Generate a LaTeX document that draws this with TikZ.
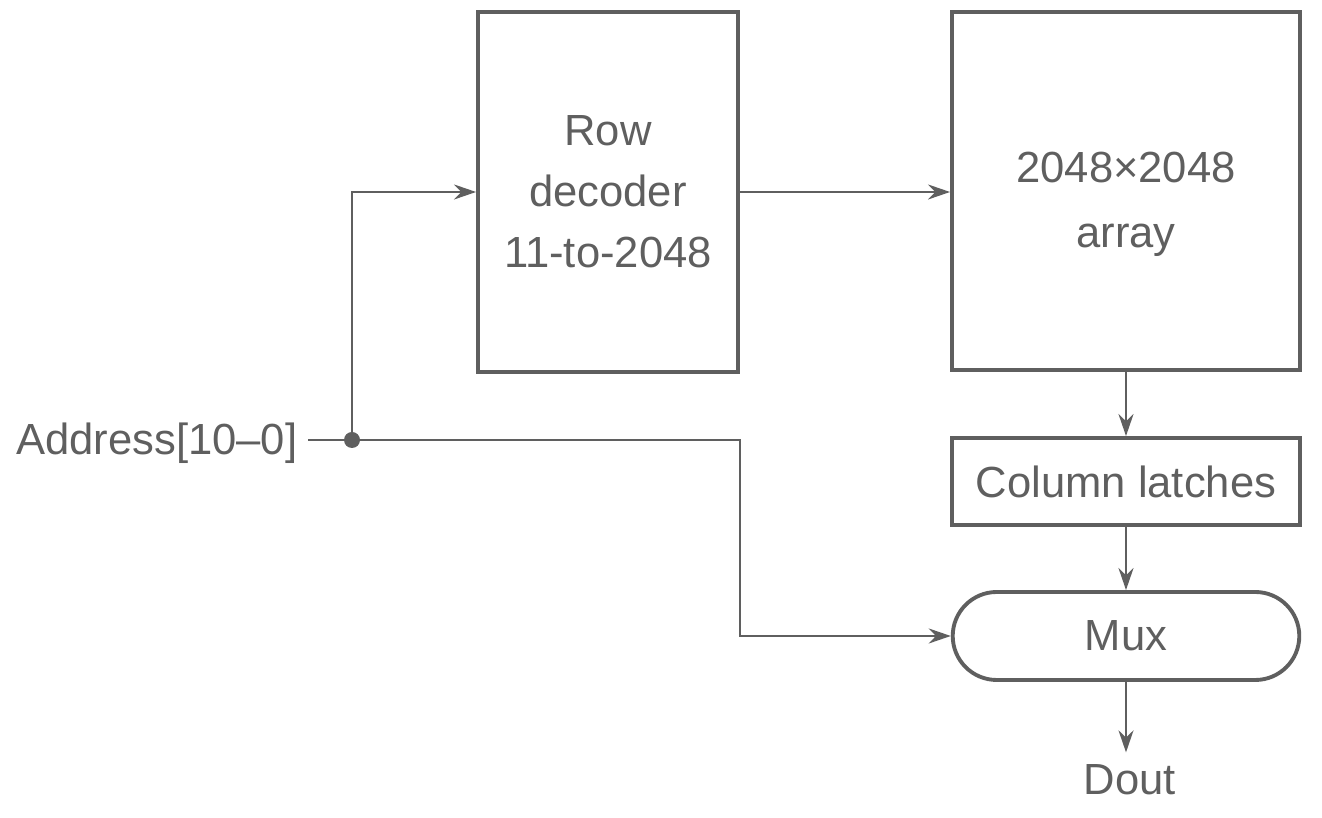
\documentclass[tikz,border=0pt]{standalone}
\usepackage{fontspec}
\setmainfont{Liberation Sans}
\usetikzlibrary{arrows.meta,positioning,shapes.misc}
\definecolor{ink}{RGB}{95,95,95}
\begin{document}
\begin{tikzpicture}[>={Stealth[length=2.2mm,width=1.5mm]},
    every node/.style={text=ink,font=\fontsize{12.4}{17.4}\selectfont},
    blk/.style={draw=ink,line width=1.1pt,minimum width=3.48cm,align=center},
    wire/.style={draw=ink,line width=0.6pt}]
    \useasboundingbox (0,0) rectangle (13.22,-8.18);
    \node[blk,minimum width=2.6cm,minimum height=3.6cm] (dec) at (6.08,-1.92) {Row\\decoder\\11-to-2048};
    \node[blk,minimum height=3.58cm] (arr) at (11.26,-1.91) {\raisebox{-0.22cm}[0pt][0pt]{\begin{tabular}{@{}c@{}}2048×2048\\[1pt]array\end{tabular}}};
    \node[blk,minimum height=0.87cm] (col) at (11.26,-4.815) {Column latches};
    \node[blk,rounded rectangle,minimum width=3.70cm,minimum height=0.88cm] (mux) at (11.26,-6.36) {Mux};
    \node (dout) at (11.30,-7.80) {Dout};
    \node[anchor=east,inner sep=0pt] (addr) at (2.98,-4.43) {Address[10–0]};
    \coordinate (a0) at (3.08,-4.40);
    \coordinate (jn) at (3.52,-4.40);
    \coordinate (bend) at (7.40,-4.40);
    \draw[wire,->] (a0) -- (bend) |- (mux.west);
    \draw[wire,->] (jn) |- (dec.west);
    \draw[wire,->] (dec.east) -- (arr.west |- dec.east);
    \draw[wire,->] (arr.south) -- (col.north);
    \draw[wire,->] (col.south) -- (mux.north);
    \draw[wire,->] (mux.south) -- (mux.south |- dout.north);
    \fill[ink] (jn) circle (0.08);
\end{tikzpicture}
\end{document}
